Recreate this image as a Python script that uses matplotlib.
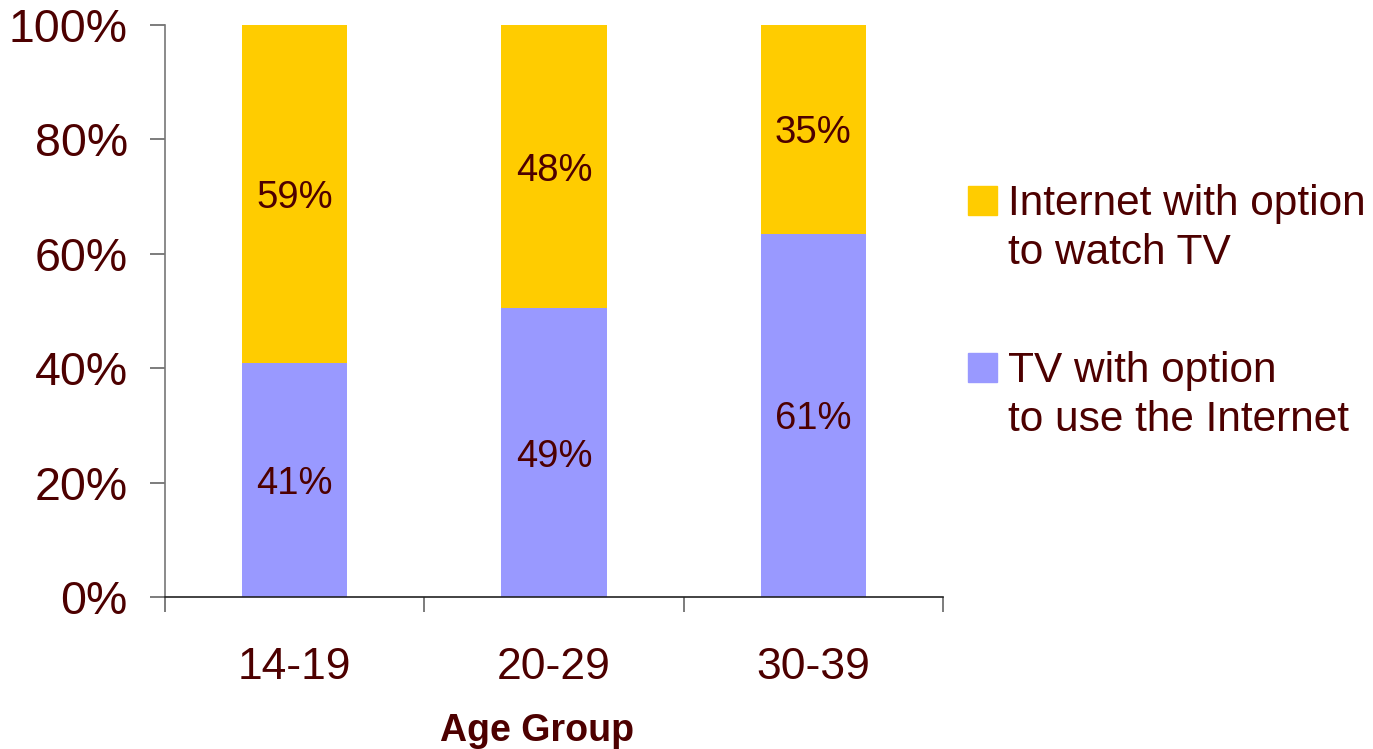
import numpy as np
import matplotlib.pyplot as plt
from matplotlib.patches import Rectangle

plt.rcParams['font.family'] = ['Liberation Sans', 'DejaVu Sans']

age_groups = ['14-19', '20-29', '30-39']
tv_with_internet = [41, 49, 61]
internet_with_tv = [59, 48, 35]
series_names = ['Internet with option\nto watch TV', 'TV with option\nto use the Internet']

text_color = '#4d0000'
yellow = '#ffcc00'
blue = '#9999ff'

tv = np.array(tv_with_internet, dtype=float)
net = np.array(internet_with_tv, dtype=float)
total = tv + net
tv_share = tv / total * 100
net_share = net / total * 100

fig = plt.figure(figsize=(13.73, 7.49), dpi=100)
ax = fig.add_axes([0.1202, 0.2029, 0.5666, 0.7637])

x = np.arange(len(age_groups))
width = 0.405
ax.bar(x, tv_share, width, color=blue)
ax.bar(x, net_share, width, bottom=tv_share, color=yellow)

for i in range(len(x)):
    ax.text(x[i], tv_share[i] / 2, f'{tv_with_internet[i]}%', ha='center',
            va='center_baseline', fontsize=27.5, color=text_color)
    ax.text(x[i], tv_share[i] + net_share[i] / 2, f'{internet_with_tv[i]}%', ha='center',
            va='center_baseline', fontsize=27.5, color=text_color)

ax.set_xlim(-0.5, len(x) - 0.5)
ax.set_ylim(0, 100)
ax.set_yticks(np.arange(0, 101, 20))
ax.set_yticklabels([f'{v}%' for v in range(0, 101, 20)])
ax.set_xticks(x)
ax.set_xticklabels(age_groups)
ax.set_xticks(np.arange(-0.5, len(x), 1), minor=True)

ax.tick_params(axis='y', direction='out', length=10.8, width=1.2, color='#666666',
               labelsize=33.5, labelcolor=text_color, pad=16)
ax.tick_params(axis='x', which='major', length=0, labelsize=32, labelcolor=text_color, pad=36)
ax.tick_params(axis='x', which='minor', direction='out', length=10.8, width=1.2, color='#666666')

for side in ['top', 'right']:
    ax.spines[side].set_visible(False)
ax.spines['left'].set_color('#777777')
ax.spines['left'].set_linewidth(1.2)
ax.spines['bottom'].set_color('#222222')
ax.spines['bottom'].set_linewidth(1.2)

fig.text(537 / 1373, 1 - 731 / 749, 'Age Group', ha='center', va='center',
         fontsize=27, fontweight='bold', color=text_color)

# legend drawn by hand: swatch plus two-line label
for name, color, top_px in [(series_names[0], yellow, 186), (series_names[1], blue, 353)]:
    fig.patches.append(Rectangle((968 / 1373, 1 - (top_px + 29) / 749), 29 / 1373, 29 / 749,
                                 transform=fig.transFigure, color=color))
    fig.text(1008 / 1373, 1 - (top_px - 2) / 749, name, ha='left', va='top',
             fontsize=30.5, color=text_color, linespacing=1.3)

fig.savefig('out.png', dpi=100)
